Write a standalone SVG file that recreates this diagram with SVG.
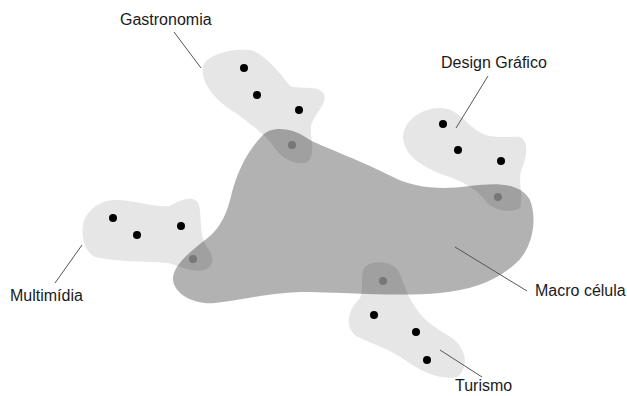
<svg xmlns="http://www.w3.org/2000/svg" width="627" height="396" viewBox="0 0 627 396">
<style>
.sub{fill:#e6e6e6}
.macro{fill:#000;fill-opacity:0.3}
.dot{fill:#000}
.gdot{fill:#777}
.lbl{font-family:"Liberation Sans",Arial,sans-serif;font-size:16px;fill:#1a1a1a}
.lead{stroke:#555;stroke-width:1;fill:none}
</style>
<rect width="627" height="396" fill="#fff"/>
<g id="gastronomia">
<path class="sub" d="M203,67 C205,56 228,48 250,50 C262,52 278,70 290,86 C300,90 318,84 324,94 C328,104 315,112 311,126 C310,140 316,152 308,162 C298,166 284,160 276,150 C268,136 250,124 236,113 C220,104 200,85 203,67 Z"/>
<circle class="dot" cx="244" cy="68" r="4"/>
<circle class="dot" cx="257" cy="95" r="4"/>
<circle class="dot" cx="299" cy="110" r="4"/>
</g>
<g id="design">
<path class="sub" d="M403,137 C404,120 422,108 440,108 C458,108 466,124 478,131 C490,140 510,136 520,137 C530,142 526,158 522,168 C517,180 524,196 520,208 C510,214 496,210 488,204 C480,192 468,184 450,177 C428,170 404,158 403,137 Z"/>
<circle class="dot" cx="443" cy="124" r="4"/>
<circle class="dot" cx="458" cy="150" r="4"/>
<circle class="dot" cx="501" cy="161" r="4"/>
</g>
<g id="multimidia">
<path class="sub" d="M83,225 C86,210 100,200 116,200 C135,200 155,208 170,206 C180,200 195,194 199,205 C202,218 199,234 206,246 C214,254 216,266 204,270 C192,273 180,266 168,263 C145,261 115,262 95,257 C85,252 81,238 83,225 Z"/>
<circle class="dot" cx="113" cy="218" r="4"/>
<circle class="dot" cx="137" cy="235" r="4"/>
<circle class="dot" cx="181" cy="226" r="4"/>
</g>
<g id="turismo">
<path class="sub" d="M364,268 C370,260 390,260 398,270 C404,282 406,294 414,305 C422,320 436,328 452,338 C466,348 470,368 457,377 C440,380 422,372 408,362 C392,350 372,344 356,336 C344,326 348,310 360,298 C364,290 360,276 364,268 Z"/>
<circle class="dot" cx="374" cy="315" r="4"/>
<circle class="dot" cx="416" cy="332" r="4"/>
<circle class="dot" cx="427" cy="360" r="4"/>
</g>
<g id="macro">
<path class="macro" d="M262,136 C270,126 292,126 310,140 C330,150 360,160 393,177 C415,188 440,190 470,186 C495,183 520,182 530,200 C538,220 532,250 515,264 C495,282 470,290 440,293 C400,297 340,292 300,292 C270,293 240,300 215,303 C195,305 175,295 173,280 C172,266 190,252 205,240 C222,228 228,210 232,192 C238,170 248,150 262,136 Z"/>
<circle class="gdot" cx="292" cy="145" r="4"/>
<circle class="gdot" cx="498" cy="197" r="4"/>
<circle class="gdot" cx="193" cy="259" r="4"/>
<circle class="gdot" cx="383" cy="281" r="4"/>
</g>
<g id="connectors">
<line class="lead" x1="174" y1="32" x2="201" y2="68"/>
<line class="lead" x1="488" y1="76" x2="456" y2="128"/>
<line class="lead" x1="82" y1="245" x2="55" y2="283"/>
<line class="lead" x1="455" y1="247" x2="527" y2="291"/>
<line class="lead" x1="440" y1="350" x2="482" y2="377"/>
</g>
<g id="labels">
<text class="lbl" x="120" y="25">Gastronomia</text>
<text class="lbl" x="441" y="68">Design Gráfico</text>
<text class="lbl" x="10" y="301">Multimídia</text>
<text class="lbl" x="535" y="296">Macro célula</text>
<text class="lbl" x="455" y="391">Turismo</text>
</g>
</svg>
